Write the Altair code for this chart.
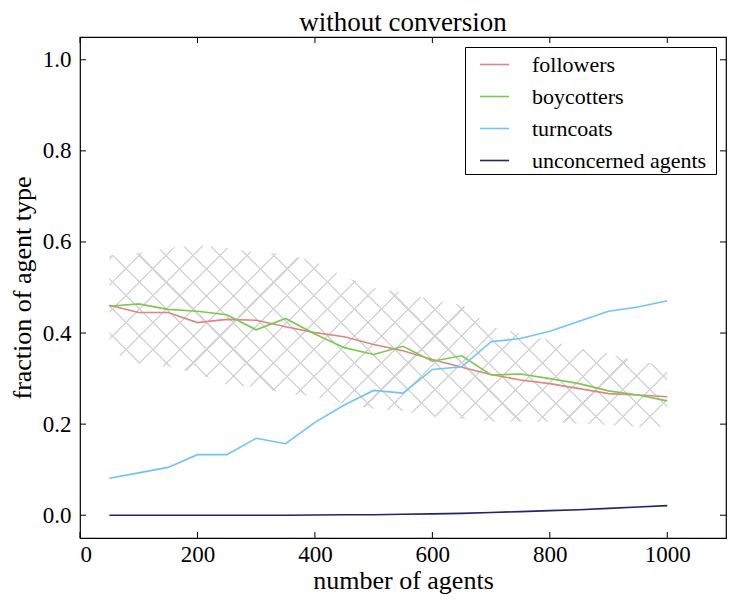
import altair as alt
import pandas as pd

# ---- data ----
agents = [50, 100, 150, 200, 250, 300, 350, 400, 450, 500,
          550, 600, 650, 700, 750, 800, 850, 900, 950, 1000]
followers = [0.461, 0.445, 0.445, 0.423, 0.430, 0.428, 0.414, 0.401, 0.392, 0.375,
             0.361, 0.342, 0.325, 0.309, 0.297, 0.289, 0.278, 0.267, 0.264, 0.260]
boycotters = [0.459, 0.464, 0.452, 0.448, 0.440, 0.407, 0.432, 0.398, 0.368, 0.353,
              0.371, 0.338, 0.350, 0.308, 0.310, 0.300, 0.289, 0.273, 0.264, 0.251]
turncoats = [0.081, 0.093, 0.105, 0.133, 0.133, 0.169, 0.157, 0.204, 0.242, 0.274,
             0.268, 0.320, 0.326, 0.381, 0.388, 0.404, 0.426, 0.448, 0.457, 0.471]
unconcerned = [0.000, 0.000, 0.000, 0.000, 0.000, 0.000, 0.000, 0.0005, 0.001, 0.001,
               0.002, 0.003, 0.004, 0.006, 0.008, 0.010, 0.012, 0.015, 0.018, 0.021]
band_upper = [0.571, 0.575, 0.587, 0.593, 0.587, 0.577, 0.574, 0.557, 0.524, 0.499,
              0.488, 0.473, 0.462, 0.414, 0.399, 0.385, 0.366, 0.355, 0.337, 0.330]
band_lower = [0.360, 0.333, 0.326, 0.311, 0.286, 0.282, 0.267, 0.260, 0.245, 0.234,
              0.229, 0.216, 0.212, 0.205, 0.205, 0.205, 0.201, 0.198, 0.194, 0.194]

series_names = ["followers", "boycotters", "turncoats", "unconcerned agents"]
series_colors = ["#e08585", "#77cc4a", "#6cc5fb", "#23236e"]
x_ticks = [0, 200, 400, 600, 800, 1000]
y_ticks = [0.0, 0.2, 0.4, 0.6, 0.8, 1.0]

# ---- layout ----
W, H = 646, 501
X_DOM = [0, 1100]
Y_DOM = [-0.05, 1.05]
FONT = "Liberation Serif"

rows = []
for name, vals in zip(series_names, [followers, boycotters, turncoats, unconcerned]):
    for a, v in zip(agents, vals):
        rows.append({"agents": a, "value": v, "type": name})
df = pd.DataFrame(rows)
band = pd.DataFrame({"agents": agents, "upper": band_upper, "lower": band_lower})

xs = alt.Scale(domain=X_DOM, nice=False, zero=False)
ys = alt.Scale(domain=Y_DOM, nice=False, zero=False)

# ---- cross-hatch via striped linear gradients (objectBoundingBox units) ----
def px_x(v):
    return (v - X_DOM[0]) / (X_DOM[1] - X_DOM[0]) * W

def px_y(v):
    return (Y_DOM[1] - v) / (Y_DOM[1] - Y_DOM[0]) * H

bw = px_x(max(agents)) - px_x(min(agents))
bh = px_y(min(band_lower)) - px_y(max(band_upper))
r = bh / bw
k = (1 + r) / (1 + r * r)
diag = (bw + bh) / 2 ** 0.5
spacing = 19.0
lw = 1.5
n_stripes = int(diag / spacing) + 1
hatch_col = "#d6d6d6"
clear = "rgba(255,255,255,0)"

def stripe_stops():
    stops = [{"offset": 0, "color": clear}]
    half = lw / 2 / diag
    for i in range(n_stripes):
        c = (i + 0.5) * spacing / diag
        if c + half >= 1:
            break
        stops += [
            {"offset": c - half, "color": clear},
            {"offset": c - half, "color": hatch_col},
            {"offset": c + half, "color": hatch_col},
            {"offset": c + half, "color": clear},
        ]
    stops.append({"offset": 1, "color": clear})
    return stops

grad_a = alt.LinearGradient(gradient="linear", stops=stripe_stops(),
                            x1=0, y1=0, x2=k, y2=k * r)
grad_b = alt.LinearGradient(gradient="linear", stops=stripe_stops(),
                            x1=0, y1=1, x2=k, y2=1 - k * r)

base_band = alt.Chart(band).encode(
    x=alt.X("agents:Q", scale=xs),
    y=alt.Y("upper:Q", scale=ys),
    y2="lower:Q",
)
hatch1 = base_band.mark_area(fill=grad_a, strokeWidth=0)
hatch2 = base_band.mark_area(fill=grad_b, strokeWidth=0)

lines = alt.Chart(df).mark_line(strokeWidth=1.6).encode(
    x=alt.X("agents:Q", scale=xs,
            axis=alt.Axis(values=x_ticks, format="d", title="number of agents",
                          labelPadding=5, titlePadding=1)),
    y=alt.Y("value:Q", scale=ys,
            axis=alt.Axis(values=y_ticks, format=".1f", title="fraction of agent type",
                          labelPadding=9, titlePadding=7)),
    color=alt.Color("type:N", sort=series_names,
                    scale=alt.Scale(domain=series_names, range=series_colors),
                    legend=alt.Legend(title="\u00a0", titleOrient="right",
                                      titleFontSize=8, titlePadding=8,
                                      orient="top-right", offset=10,
                                      symbolType="stroke", symbolSize=841,
                                      symbolStrokeWidth=1.6, symbolOffset=12,
                                      labelOffset=22,
                                      rowPadding=5, padding=2,
                                      strokeColor="black", fillColor="white",
                                      labelFont=FONT, labelFontSize=22,
                                      labelColor="black", labelLimit=400)),
    detail="type:N",
    order=alt.Order("agents:Q"),
)

# inward tick marks on all four sides
xt = pd.DataFrame({"t": x_ticks})
yt = pd.DataFrame({"t": y_ticks})
TL = 6
ticks_bottom = alt.Chart(xt).mark_rule(color="black", strokeWidth=1).encode(
    x=alt.X("t:Q", scale=xs), y=alt.value(H), y2=alt.value(H - TL))
ticks_top = alt.Chart(xt).mark_rule(color="black", strokeWidth=1).encode(
    x=alt.X("t:Q", scale=xs), y=alt.value(0), y2=alt.value(TL))
ticks_left = alt.Chart(yt).mark_rule(color="black", strokeWidth=1).encode(
    y=alt.Y("t:Q", scale=ys), x=alt.value(0), x2=alt.value(TL))
ticks_right = alt.Chart(yt).mark_rule(color="black", strokeWidth=1).encode(
    y=alt.Y("t:Q", scale=ys), x=alt.value(W), x2=alt.value(W - TL))

chart = alt.layer(
    hatch1, hatch2, lines, ticks_bottom, ticks_top, ticks_left, ticks_right
).properties(
    width=W, height=H,
    title=alt.Title("without conversion", font=FONT, fontSize=27,
                    fontWeight="normal", color="black", offset=0),
    autosize=alt.AutoSizeParams(type="none"),
    padding={"left": 72, "top": 29, "right": 4, "bottom": 58},
).configure_view(
    stroke="black", strokeWidth=1.2
).configure_axis(
    labelFont=FONT, labelFontSize=23, labelColor="black",
    titleFont=FONT, titleFontSize=26, titleFontWeight="normal", titleColor="black",
    ticks=False, domain=False, grid=False,
)

chart.save("out.html", embed_options={"renderer": "svg", "actions": False})
